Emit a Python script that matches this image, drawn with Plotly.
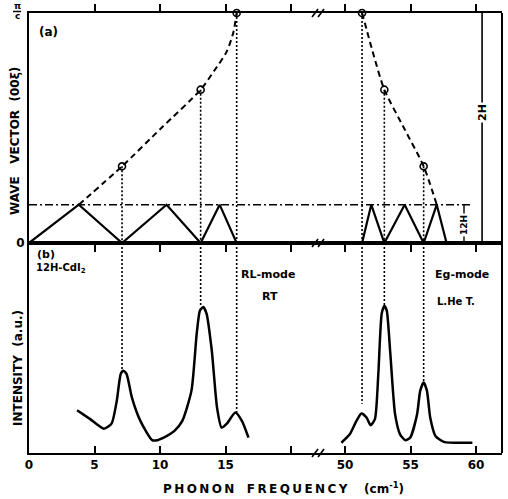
import plotly.graph_objects as go

# ---------------- data ----------------
# panel (a): folded dispersion (wave vector in units of pi/6c)
zig_left_x = [0, 3.8, 7.1, 10.5, 13.1, 14.55, 15.85]
zig_left_q = [0, 1, 0, 1, 0, 1, 0]
zig_right_x = [51.3, 52.0, 53.0, 54.55, 56.0, 57.0, 57.75]
zig_right_q = [0, 1, 0, 1, 0, 1, 0]

disp_left_x = [3.8, 7.1, 10.1, 13.1, 14.15, 15.1, 15.6, 15.85]
disp_left_q = [1, 2, 3, 4, 4.5, 5, 5.5, 6]
disp_right_x = [51.3, 51.7, 52.1, 53.0, 54.5, 56.0, 57.0]
disp_right_q = [6, 5.5, 5, 4, 3, 2, 1]

circ_left_x = [7.1, 13.1, 15.85]
circ_left_q = [2, 4, 6]
circ_right_x = [51.3, 53.0, 56.0]
circ_right_q = [6, 4, 2]

# panel (b): Raman spectra (arbitrary units)
spec_rl_x = [3.67, 4.7, 5.72, 6.3, 6.7, 7.0, 7.2, 7.45, 7.85, 8.5, 9.4, 9.8, 10.5,
             11.1, 11.7, 12.4, 12.8, 13.05, 13.3, 13.55, 13.95, 14.35, 14.7, 15.1,
             15.75, 16.25, 16.75]
spec_rl_i = [2.04, 1.6, 1.16, 1.4, 2.49, 3.76, 3.92, 3.76, 2.65, 1.53, 0.61, 0.61, 0.8,
             1.05, 1.53, 2.97, 5.68, 6.79, 6.95, 6.64, 4.88, 2.17, 1.21, 1.4,
             1.93, 1.53, 0.73]
spec_eg_x = [49.72, 50.36, 50.87, 51.25, 51.64, 51.95, 52.28, 52.54, 52.8, 53.0, 53.18,
             53.44, 53.82, 54.2, 54.6, 54.97, 55.5, 55.74, 56.0, 56.25, 56.5, 56.9,
             57.54, 59.72]
spec_eg_i = [0.49, 0.89, 1.53, 1.88, 1.69, 1.32, 1.61, 3.76, 6.64, 7.0, 6.79,
             4.88, 1.85, 0.89, 0.61, 0.73, 1.85, 2.97, 3.36, 2.97, 1.69, 0.81,
             0.53, 0.49]

# dotted connectors: end points in panel (b)
conn_left_i = [3.9, 6.95, 1.93]
conn_right_i = [2.34, 7.0, 3.36]

dashdot_level = 1
dashdot_end = 59.7
bracket_12h_x = 59.08
bracket_2h_x = 60.46

# axes
left_range = [0, 22.06]
right_range = [47.94, 61.98]
q_range = [0, 6]
i_range = [0, 10]
left_ticks = [0, 5, 10, 15, 20]
left_ticklabels = ["0", "5", "10", "15", " "]
right_ticks = [50, 55, 60]
right_ticklabels = ["50", "55", "60"]

# ---------------- layout geometry ----------------
W, H = 508, 499
ML, MR, MT, MB = 29, 6, 13, 46
PW = W - ML - MR
PH = H - MT - MB
D = (left_range[1] - left_range[0]) / (
    (left_range[1] - left_range[0]) + (right_range[1] - right_range[0]))
SPLIT = (H - MB - 243) / PH


def px(xp):
    return (xp - ML) / PW


def py(yp):
    return (H - MB - yp) / PH


FONT = "DejaVu Sans"
K = "black"

fig = go.Figure()


def add(x, y, xa, ya, **kw):
    fig.add_trace(go.Scatter(x=x, y=y, xaxis=xa, yaxis=ya, showlegend=False,
                             hoverinfo="skip", **kw))


# panel (a)
add(zig_left_x, zig_left_q, "x", "y2", mode="lines", line=dict(color=K, width=2.2))
add(zig_right_x, zig_right_q, "x2", "y2", mode="lines", line=dict(color=K, width=2.2))
add(disp_left_x, disp_left_q, "x", "y2", mode="lines",
    line=dict(color=K, width=2, dash="6px,4px", shape="spline", smoothing=0.7))
add(disp_right_x, disp_right_q, "x2", "y2", mode="lines",
    line=dict(color=K, width=2, dash="6px,4px", shape="spline", smoothing=0.7))
add([left_range[0], left_range[1]], [dashdot_level] * 2, "x", "y2", mode="lines",
    line=dict(color=K, width=1.5, dash="8px,3px,2px,3px"))
add([right_range[0], dashdot_end], [dashdot_level] * 2, "x2", "y2", mode="lines",
    line=dict(color=K, width=1.5, dash="8px,3px,2px,3px"))

# dotted connectors
for xs, qs, ends, xa in [(circ_left_x, circ_left_q, conn_left_i, "x"),
                         (circ_right_x, circ_right_q, conn_right_i, "x2")]:
    for xv, qv, iv in zip(xs, qs, ends):
        add([xv, xv], [qv, 0], xa, "y2", mode="lines",
            line=dict(color=K, width=1.6, dash="2px,2px"))
        add([xv, xv], [i_range[1], iv], xa, "y", mode="lines",
            line=dict(color=K, width=1.6, dash="2px,2px"))

add(circ_left_x, circ_left_q, "x", "y2", mode="markers",
    marker=dict(symbol="circle-open", size=7, color=K, line=dict(width=1.6)), cliponaxis=False)
add(circ_right_x, circ_right_q, "x2", "y2", mode="markers",
    marker=dict(symbol="circle-open", size=7, color=K, line=dict(width=1.6)), cliponaxis=False)

# brackets
add([bracket_2h_x, bracket_2h_x], [0, 6], "x2", "y2", mode="lines", line=dict(color=K, width=1.6))
add([bracket_12h_x, bracket_12h_x], [0, 1], "x2", "y2", mode="lines", line=dict(color=K, width=1.4))

# panel (b)
add(spec_rl_x, spec_rl_i, "x", "y", mode="lines",
    line=dict(color=K, width=2.5, shape="spline", smoothing=0.6))
add(spec_eg_x, spec_eg_i, "x2", "y", mode="lines",
    line=dict(color=K, width=2.5, shape="spline", smoothing=0.6))

tickfont = dict(family=FONT, size=12, color=K, weight="bold")
common_x = dict(showline=True, linecolor=K, linewidth=2, ticks="inside", ticklen=7,
                tickwidth=1.6, tickcolor=K, showgrid=False, zeroline=False,
                tickfont=tickfont, mirror="allticks", automargin=False)

fig.update_layout(
    width=W, height=H, margin=dict(l=ML, r=MR, t=MT, b=MB, autoexpand=False),
    paper_bgcolor="white", plot_bgcolor="white",
    xaxis=dict(domain=[0, D], range=left_range, anchor="y", tickvals=left_ticks,
               ticktext=left_ticklabels, **common_x),
    xaxis2=dict(domain=[D, 1], range=right_range, anchor="y", tickvals=right_ticks,
                ticktext=right_ticklabels, **common_x),
    xaxis3=dict(domain=[0, D], range=left_range, anchor="y2", tickvals=left_ticks,
                showticklabels=False, **common_x),
    xaxis4=dict(domain=[D, 1], range=right_range, anchor="y2", tickvals=right_ticks,
                showticklabels=False, **common_x),
    yaxis=dict(domain=[0, SPLIT], range=i_range, anchor="x", showline=True, linecolor=K,
               linewidth=2, ticks="", showticklabels=False, showgrid=False, zeroline=False,
               automargin=False),
    yaxis2=dict(domain=[SPLIT, 1], range=q_range, anchor="x", showline=True, linecolor=K,
                linewidth=2, ticks="inside", ticklen=10, tickwidth=1.6, tickcolor=K,
                tickvals=[0], ticktext=["0"],
                tickfont=tickfont, showgrid=False, zeroline=False, automargin=False),
    yaxis3=dict(overlaying="y2", range=q_range, anchor="x", side="left", showline=False,
                ticks="inside", ticklen=10, tickwidth=1.6, tickcolor=K,
                tickvals=[1, 2, 3, 4, 5], showticklabels=False, showgrid=False,
                zeroline=False, automargin=False),
    yaxis4=dict(overlaying="y2", range=q_range, anchor="x2", side="right", showline=False,
                ticks="inside", ticklen=9, tickwidth=1.6, tickcolor=K,
                tickvals=[1, 2, 3, 4, 5], showticklabels=False, showgrid=False,
                zeroline=False, automargin=False),
)

# right frame line
fig.add_shape(type="line", xref="paper", yref="paper", x0=1, x1=1, y0=0, y1=1,
              line=dict(color=K, width=2))

# axis-break marks
for yb in [0, SPLIT, 1]:
    for dx in (-3, 3):
        fig.add_shape(type="line", xref="paper", yref="paper", xsizemode="pixel",
                      ysizemode="pixel", xanchor=D, yanchor=yb,
                      x0=dx - 3, x1=dx + 3, y0=-4, y1=4, line=dict(color=K, width=1.6))

# pi/c fraction label
fig.add_shape(type="line", xref="paper", yref="paper", x0=px(13), x1=px(21),
              y0=py(11.5), y1=py(11.5), line=dict(color=K, width=1.5))


def ann(text, x, y, size=11, angle=0, xanchor="center", bg=None, **kw):
    fig.add_annotation(text=text, xref="paper", yref="paper", x=px(x), y=py(y),
                       showarrow=False, textangle=angle, xanchor=xanchor,
                       yanchor="middle", bgcolor=bg,
                       font=dict(family=FONT, size=size, color=K, weight="bold"), **kw)


def spaced(word):
    return "\u2009".join(word)


ann("π", 17, 6, size=9)
ann("c", 17, 16, size=9)
ann("(a)", 37, 32, size=12, xanchor="left")
ann("(b)", 35, 254, size=11, xanchor="left")
ann("12H-CdI<sub>2</sub>", 34, 268, size=10, xanchor="left")
ann("RL-mode", 268, 274, size=11)
ann("RT", 270, 296, size=11)
ann("Eg-mode", 462, 274, size=11)
ann("L.He T.", 456, 302, size=10)
ann("2H", 482, 113, size=11, angle=-90, bg="white")
ann("12H", 464, 225, size=9, angle=-90, bg="white")
ann("WAVE &nbsp; VECTOR &nbsp;(00ξ)", 15, 141, size=12, angle=-90)
ann("INTENSITY &nbsp;(a.u.)", 18, 368, size=12, angle=-90)
ann(spaced("PHONON") + " &nbsp; " + spaced("FREQUENCY") + " &nbsp; &nbsp;(cm<sup>-1</sup>)",
    283, 488, size=12)

fig.write_html("out.html", config={"displayModeBar": False},
               post_script="document.body.style.margin='0';"
                           "document.body.style.overflow='hidden';")
